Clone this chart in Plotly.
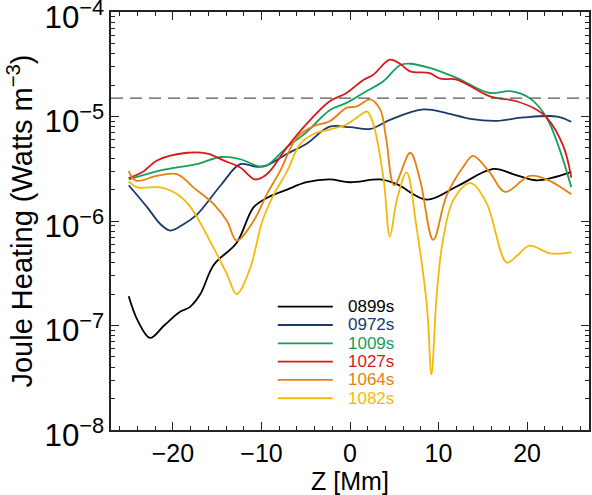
import plotly.graph_objects as go

# ---------------- data ----------------
labels = ["0899s", "0972s", "1009s", "1027s", "1064s", "1082s"]
colors = ["#000000", "#1b3a6b", "#14a05a", "#d7191c", "#e8800e", "#f5b90a"]

z_0899 = [-25, -24, -22.6, -21, -19.2, -18.1, -16.9, -15.4, -12.8, -10.9, -9.4, -7.1, -4.9, -2.3, 0, 3.4, 5.3, 8.7, 12.1, 16.2, 18.5, 21.1, 25]
j_0899 = [1.9e-7, 1.12e-7, 7.6e-8, 1.0e-7, 1.35e-7, 1.5e-7, 2.0e-7, 3.8e-7, 6.2e-7, 1.35e-6, 1.66e-6, 2.0e-6, 2.35e-6, 2.5e-6, 2.35e-6, 2.5e-6, 2.25e-6, 1.6e-6, 2.15e-6, 3.15e-6, 2.8e-6, 2.45e-6, 2.95e-6]

z_0972 = [-25, -22.9, -21.4, -20.3, -18.8, -17.3, -14.6, -12.4, -10.5, -9.4, -7.1, -4.9, -2.3, 0, 2.3, 4.5, 8.3, 10.9, 13.6, 16.6, 19.6, 23.4, 25]
j_0972 = [2.2e-6, 1.35e-6, 9.3e-7, 8.1e-7, 9.3e-7, 1.15e-6, 2.2e-6, 3.5e-6, 3.3e-6, 3.4e-6, 4.4e-6, 5.5e-6, 8.0e-6, 7.9e-6, 7.6e-6, 9.3e-6, 1.17e-5, 1.08e-5, 9.5e-6, 9.1e-6, 9.8e-6, 1.0e-5, 8.9e-6]

z_1009 = [-25, -21, -17.3, -14.6, -12.4, -10.1, -9.4, -7.1, -4.9, -2.3, -0.4, 1.5, 3.8, 5.65, 6.8, 9.0, 12.05, 15.8, 18.1, 20.3, 22.2, 23.7, 25]
j_1009 = [2.5e-6, 3.1e-6, 3.5e-6, 4.1e-6, 3.9e-6, 3.3e-6, 3.4e-6, 5.1e-6, 7.1e-6, 1.15e-5, 1.35e-5, 1.68e-5, 2.19e-5, 3.1e-5, 3.2e-5, 2.92e-5, 2.34e-5, 1.68e-5, 1.75e-5, 1.5e-5, 9.8e-6, 4.8e-6, 2.1e-6]

z_1027 = [-25, -23.3, -21.8, -18.4, -16, -14.3, -12.4, -10.7, -9.4, -7.1, -4.9, -2.3, -0.4, 1.5, 2.6, 4.5, 5.65, 6.8, 9.0, 10.2, 12.05, 15.8, 18.8, 21.1, 22.2, 24.1, 25]
j_1027 = [2.57e-6, 3.0e-6, 3.8e-6, 4.5e-6, 4.4e-6, 3.8e-6, 3.25e-6, 2.5e-6, 2.8e-6, 5.1e-6, 8.5e-6, 1.4e-5, 1.68e-5, 2.24e-5, 2.5e-5, 3.5e-5, 3.2e-5, 2.7e-5, 2.6e-5, 2.3e-5, 2.26e-5, 1.56e-5, 1.4e-5, 1.16e-5, 9.8e-6, 5.2e-6, 2.6e-6]

z_1064 = [-25, -24.2, -21.8, -19.5, -17.7, -15.4, -13.9, -12.8, -10.9, -9.4, -7.9, -6.0, -4.1, -2.3, -0.4, 0.8, 2.26, 3.4, 4.1, 5.0, 6.8, 7.9, 9.4, 10.9, 12.8, 13.9, 15.8, 17.5, 20.3, 22.2, 25]
j_1064 = [3.0e-6, 2.43e-6, 2.7e-6, 2.8e-6, 2.1e-6, 1.45e-6, 1.0e-6, 6.5e-7, 1.0e-6, 1.8e-6, 3.0e-6, 6.3e-6, 8.1e-6, 9.0e-6, 1.21e-5, 1.25e-5, 1.46e-5, 1.17e-5, 6.0e-6, 2.2e-6, 4.5e-6, 2.5e-6, 6.6e-7, 1.74e-6, 3.3e-6, 4.2e-6, 2.9e-6, 1.9e-6, 2.7e-6, 2.5e-6, 1.8e-6]

z_1082 = [-25, -24, -21.4, -19.5, -18.0, -15.4, -13.9, -12.8, -11.3, -9.9, -8.6, -7.1, -5.6, -4.1, -2.3, -0.4, 1.5, 1.9, 2.6, 3.8, 4.5, 5.3, 6.4, 7.5, 8.7, 9.2, 9.8, 10.5, 11.7, 13.6, 15.4, 17.7, 18.8, 20.3, 22.6, 25]
j_1082 = [2.4e-6, 2.1e-6, 2.1e-6, 1.8e-6, 1.35e-6, 5.5e-7, 3.1e-7, 2.0e-7, 3.5e-7, 1.0e-6, 1.8e-6, 3.0e-6, 5.5e-6, 6.8e-6, 7.5e-6, 8.4e-6, 1.08e-5, 1.12e-5, 8.7e-6, 2.5e-6, 7.1e-7, 1.6e-6, 2.9e-6, 8.9e-7, 1.5e-7, 3.4e-8, 2.0e-7, 6.6e-7, 1.6e-6, 2.3e-6, 1.5e-6, 4.0e-7, 4.6e-7, 5.8e-7, 4.9e-7, 5.0e-7]

threshold = 1.5e-5

series_z = [z_0899, z_0972, z_1009, z_1027, z_1064, z_1082]
series_j = [j_0899, j_0972, j_1009, j_1027, j_1064, j_1082]

FONT = "Liberation Sans, Arial, Helvetica, sans-serif"

fig = go.Figure()
for z, j, lab, col in zip(series_z, series_j, labels, colors):
    fig.add_trace(go.Scatter(x=z, y=j, mode="lines", name=lab,
                             line=dict(color=col, width=1.8, shape="spline", smoothing=1.0),
                             showlegend=False))

fig.add_hline(y=threshold, line=dict(color="#555555", width=1.4, dash="12px,7px"))

# manual legend: coloured line + coloured text
leg_x0, leg_x1, leg_tx = 0.349, 0.464, 0.492
leg_y0, leg_dy = 0.295, 0.0438
for i, (lab, col) in enumerate(zip(labels, colors)):
    yy = leg_y0 - i * leg_dy
    fig.add_shape(type="line", xref="paper", yref="paper", x0=leg_x0, x1=leg_x1,
                  y0=yy, y1=yy, line=dict(color=col, width=1.8))
    fig.add_annotation(xref="paper", yref="paper", x=leg_tx, y=yy, text=lab,
                       showarrow=False, xanchor="left", yanchor="middle",
                       font=dict(family=FONT, size=17, color=col))

axis_common = dict(showline=True, linecolor="#222222", linewidth=1.5, mirror="ticks",
                   ticks="inside", ticklen=8, tickwidth=1.2, tickcolor="#222222",
                   showgrid=False, zeroline=False, ticklabeloverflow="allow", automargin=False,
                   tickfont=dict(family=FONT, size=25, color="#000000"))

fig.update_xaxes(range=[-27, 27], tickmode="linear", tick0=0, dtick=10,
                 minor=dict(ticks="inside", ticklen=4, tickwidth=1.0, tickcolor="#222222", dtick=2, tick0=0),
                 title=dict(text="Z [Mm]", font=dict(family=FONT, size=25, color="#000000"), standoff=0),
                 **axis_common)
fig.update_yaxes(type="log", range=[-8.0005, -3.9995], tickmode="linear", tick0=0, dtick=1,
                 exponentformat="power", showexponent="all", ticklabelshift=5,
                 minor=dict(ticks="inside", ticklen=4, tickwidth=1.0, tickcolor="#222222", dtick="D1"),
                 title=dict(text="Joule Heating (Watts m<sup>−3</sup>)",
                            font=dict(family=FONT, size=29, color="#000000"), standoff=3),
                 **axis_common)

fig.update_layout(width=592, height=495, margin=dict(l=111, r=3, t=12, b=65),
                  paper_bgcolor="white", plot_bgcolor="white",
                  font=dict(family=FONT))

fig.write_html("out.html")
